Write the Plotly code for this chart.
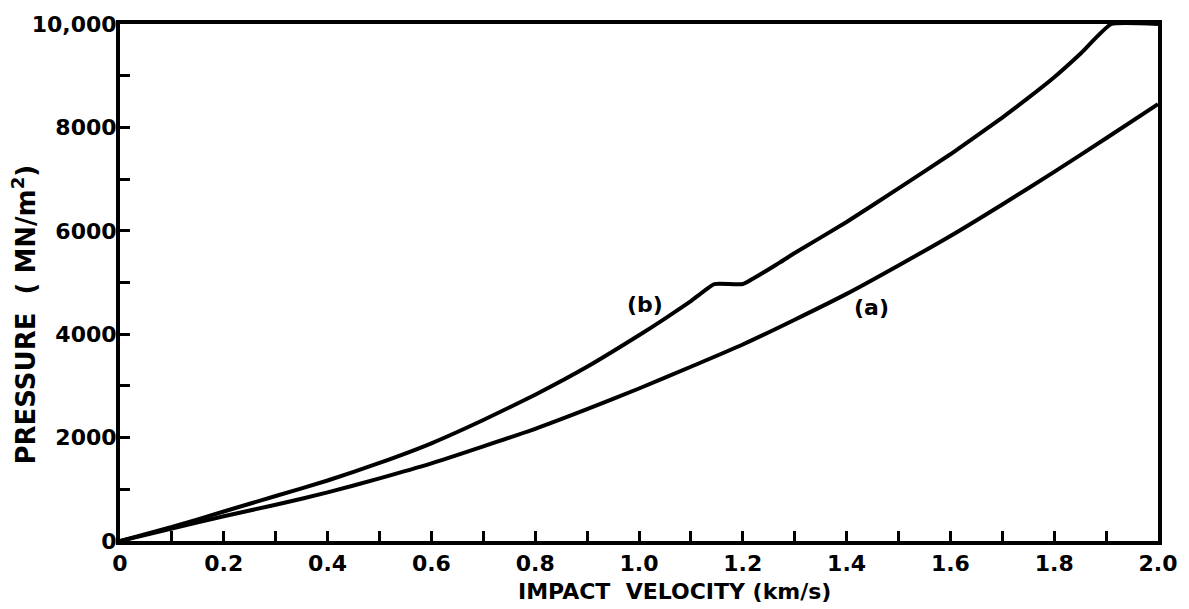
import plotly.graph_objects as go

# Curve (a)
vel_a = [0, 0.1, 0.2, 0.3, 0.4, 0.5, 0.6, 0.7, 0.8, 0.9, 1.0, 1.1, 1.2, 1.3, 1.4,
         1.5, 1.6, 1.7, 1.8, 1.9, 2.0]
pres_a = [0, 240, 480, 700, 940, 1210, 1500, 1830, 2170, 2550, 2950, 3370, 3800,
          4280, 4780, 5330, 5900, 6510, 7140, 7790, 8450]

# Curve (b)
vel_b = [0, 0.1, 0.2, 0.3, 0.4, 0.5, 0.6, 0.7, 0.8, 0.9, 1.0, 1.05, 1.1, 1.145,
         1.2, 1.27, 1.3, 1.4, 1.5, 1.6, 1.7, 1.75, 1.8, 1.85, 1.91, 2.0]
pres_b = [0, 270, 570, 870, 1170, 1510, 1890, 2340, 2830, 3370, 3980, 4300, 4640,
          4970, 4970, 5380, 5570, 6170, 6820, 7480, 8190, 8570, 8970, 9420, 10000, 10000]

x_ticks = [0, 0.2, 0.4, 0.6, 0.8, 1.0, 1.2, 1.4, 1.6, 1.8, 2.0]
x_labels = ["0", "0.2", "0.4", "0.6", "0.8", "1.0", "1.2", "1.4", "1.6", "1.8", "2.0"]
y_ticks = [0, 2000, 4000, 6000, 8000, 10000]
y_labels = ["0", "2000", "4000", "6000", "8000", "10,000"]

FONT = "DejaVu Sans"

fig = go.Figure()
fig.add_trace(go.Scatter(x=vel_a, y=pres_a, mode="lines",
                         line=dict(color="black", width=4, shape="spline", smoothing=0.6),
                         showlegend=False))
fig.add_trace(go.Scatter(x=vel_b, y=pres_b, mode="lines", cliponaxis=False,
                         line=dict(color="black", width=4, shape="spline", smoothing=0.4),
                         showlegend=False))

fig.update_layout(
    width=1189, height=609,
    margin=dict(l=120, r=26, t=24, b=68),
    paper_bgcolor="white", plot_bgcolor="white",
    font=dict(family=FONT, color="black"),
    showlegend=False,
)

fig.update_xaxes(
    range=[0, 2.0], tickvals=x_ticks, ticktext=x_labels,
    ticks="inside", ticklen=10, tickwidth=3, tickcolor="black",
    minor=dict(dtick=0.1, ticks="inside", ticklen=10, tickwidth=3, tickcolor="black"),
    showline=True, linecolor="black", linewidth=4, mirror=True,
    showgrid=False, zeroline=False,
    tickfont=dict(family=FONT, size=22, color="black", weight="bold"),
    ticklabelstandoff=0,
)
fig.update_yaxes(
    range=[0, 10000], tickvals=y_ticks, ticktext=y_labels,
    ticks="inside", ticklen=10, tickwidth=3, tickcolor="black",
    minor=dict(dtick=1000, ticks="inside", ticklen=10, tickwidth=3, tickcolor="black"),
    showline=True, linecolor="black", linewidth=4, mirror=True,
    showgrid=False, zeroline=False,
    tickfont=dict(family=FONT, size=22, color="black", weight="bold"),
    ticklabelstandoff=-5,
)

fig.add_annotation(text="IMPACT\u00a0\u00a0VELOCITY (km/s)", xref="paper", yref="paper",
                   x=0.534, y=-0.097, xanchor="center", yanchor="middle",
                   showarrow=False, font=dict(family=FONT, size=22, color="black", weight="bold"))
fig.add_annotation(text="PRESSURE\u00a0\u00a0(\u00a0MN/m<sup>2</sup>)", xref="paper", yref="paper",
                   x=-0.092, y=0.437, xanchor="center", yanchor="middle", textangle=-90,
                   showarrow=False, font=dict(family=FONT, size=26, color="black", weight="bold"))

fig.add_annotation(text="(b)", x=1.012, y=4565, xref="x", yref="y", showarrow=False,
                   font=dict(family=FONT, size=22, color="black", weight="bold"))
fig.add_annotation(text="(a)", x=1.448, y=4526, xref="x", yref="y", showarrow=False,
                   font=dict(family=FONT, size=22, color="black", weight="bold"))

fig.write_html("out.html")
